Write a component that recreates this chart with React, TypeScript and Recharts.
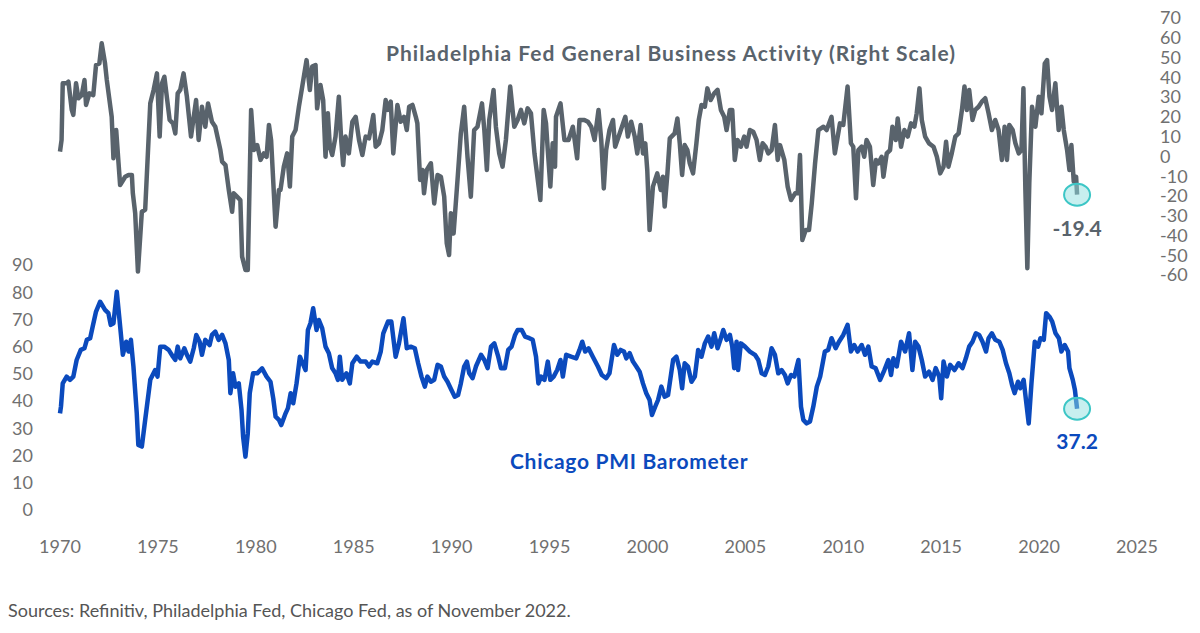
import { LineChart, Line, XAxis, YAxis, ReferenceDot } from "recharts";

// x positions are in the chart's own year scale (1970 .. 2025)
const phillyYears = [
  1970.0, 1970.08, 1970.14, 1970.34, 1970.43, 1970.6, 1970.68, 1970.82, 1970.94, 1971.11, 1971.25, 1971.33, 1971.5, 1971.7, 1971.84,
  1972.01, 1972.13, 1972.3, 1972.39, 1972.64, 1972.73, 1972.87, 1972.99, 1973.07, 1973.33, 1973.5, 1973.67, 1973.72, 1973.84, 1973.98,
  1974.18, 1974.35, 1974.61, 1974.78, 1974.95, 1975.09, 1975.21, 1975.33, 1975.6, 1975.77, 1975.89, 1976.01, 1976.14, 1976.31, 1976.48,
  1976.69, 1976.83, 1976.95, 1977.08, 1977.25, 1977.42, 1977.56, 1977.76, 1977.93, 1978.19, 1978.28, 1978.45, 1978.62, 1978.79, 1978.87,
  1979.04, 1979.21, 1979.3, 1979.47, 1979.59, 1979.76, 1979.9, 1980.07, 1980.24, 1980.41, 1980.55, 1980.67, 1980.78, 1981.01, 1981.18,
  1981.26, 1981.43, 1981.6, 1981.74, 1981.86, 1982.03, 1982.2, 1982.37, 1982.59, 1982.76, 1982.88, 1983.05, 1983.13, 1983.3, 1983.44,
  1983.56, 1983.68, 1983.78, 1983.9, 1984.07, 1984.24, 1984.36, 1984.46, 1984.58, 1984.75, 1984.93, 1985.1, 1985.27, 1985.44, 1985.61,
  1985.78, 1986.0, 1986.12, 1986.29, 1986.46, 1986.63, 1986.75, 1986.89, 1987.02, 1987.23, 1987.4, 1987.57, 1987.71, 1987.83, 1988.0,
  1988.17, 1988.25, 1988.39, 1988.51, 1988.59, 1988.73, 1988.94, 1989.11, 1989.28, 1989.45, 1989.62, 1989.75, 1989.87, 1989.96, 1990.1,
  1990.3, 1990.47, 1990.64, 1990.81, 1990.98, 1991.15, 1991.32, 1991.55, 1991.67, 1991.8, 1991.92, 1992.14, 1992.26, 1992.43, 1992.6,
  1992.77, 1992.99, 1993.2, 1993.37, 1993.54, 1993.71, 1993.88, 1994.05, 1994.23, 1994.4, 1994.53, 1994.7, 1994.82, 1994.91, 1995.04,
  1995.16, 1995.28, 1995.33, 1995.56, 1995.76, 1995.97, 1996.19, 1996.41, 1996.53, 1996.78, 1996.96, 1997.13, 1997.3, 1997.5, 1997.64,
  1997.77, 1997.89, 1998.06, 1998.24, 1998.35, 1998.58, 1998.87, 1999.0, 1999.17, 1999.35, 1999.48, 1999.65, 1999.77, 1999.89, 1999.99,
  2000.11, 2000.28, 2000.5, 2000.68, 2000.79, 2000.88, 2001.02, 2001.14, 2001.39, 2001.53, 2001.65, 2001.77, 2001.9, 2002.04, 2002.16,
  2002.33, 2002.5, 2002.62, 2002.76, 2002.93, 2003.06, 2003.23, 2003.41, 2003.58, 2003.75, 2003.92, 2004.04, 2004.21, 2004.33, 2004.46,
  2004.6, 2004.77, 2004.94, 2005.06, 2005.23, 2005.4, 2005.57, 2005.74, 2005.88, 2006.03, 2006.17, 2006.34, 2006.51, 2006.65, 2006.77,
  2006.99, 2007.16, 2007.33, 2007.54, 2007.67, 2007.79, 2007.91, 2008.08, 2008.25, 2008.39, 2008.56, 2008.73, 2008.99, 2009.15, 2009.4,
  2009.57, 2009.83, 2010.0, 2010.22, 2010.39, 2010.51, 2010.65, 2010.77, 2010.94, 2011.07, 2011.19, 2011.36, 2011.53, 2011.67, 2011.79,
  2011.96, 2012.05, 2012.22, 2012.39, 2012.51, 2012.68, 2012.78, 2012.95, 2013.12, 2013.29, 2013.46, 2013.63, 2013.75, 2013.89, 2014.01,
  2014.18, 2014.38, 2014.61, 2014.78, 2014.95, 2015.12, 2015.25, 2015.37, 2015.54, 2015.72, 2015.89, 2016.06, 2016.19, 2016.31, 2016.43,
  2016.6, 2016.74, 2016.91, 2017.08, 2017.25, 2017.42, 2017.59, 2017.76, 2017.93, 2018.1, 2018.24, 2018.36, 2018.48, 2018.65, 2018.79,
  2018.96, 2019.1, 2019.2, 2019.3, 2019.4, 2019.5, 2019.64, 2019.81, 2019.98, 2020.12, 2020.29, 2020.41, 2020.53, 2020.66, 2020.83,
  2021.0, 2021.14, 2021.26, 2021.43, 2021.55, 2021.65, 2021.77, 2021.89, 2021.94,
];
const phillyValues = [
  2.4, 8.3, 37, 37, 37.8, 23.5, 21, 37, 29.4, 31, 38.6, 26, 31.9, 31, 46.2,
  47, 57.2, 47, 38.6, 20, -1, 13.3, -3.5, -14.5, -10.3, -9.4, -9.4, -18.7, -28.8, -58.3,
  -28, -27, 26.8, 33.6, 42, 10, 37, 40.3, 18.4, 16.7, 11.6, 31.9, 33.6, 42, 30.2,
  10, 20, 28.5, 8.3, 25.1, 15, 26.8, 17.5, 15, 3.2, -2.7, -4.4, -17, -28, -18.7,
  -20.4, -22.1, -50.7, -57.5, -57.5, 23.5, 3.2, 5.7, -1.8, 1.5, -0.2, 15.9, 8.3, -35.6, -17,
  -17, -5.2, 1.5, -15.3, 10, 13.3, 25.1, 35.3, 48.7, 33.6, 45.4, 46.2, 24.3, 36.1, 28.5,
  -0.2, 21.8, 4.9, 0.7, 10, 30.2, 8.3, -4.4, 10, 1.5, 17.5, 20, 8.3, 0.7, 10,
  9.1, 20.9, 4.9, 6.6, 13.3, 28.5, 23.5, 27.7, 1.5, 26, 17.5, 20, 13.3, 25.1, 26,
  20, 16.7, -11.9, -6.9, -18.7, -6.9, -3.5, -23.8, -9.4, -10.3, -20.4, -44, -49.9, -28.8, -39,
  -11.9, 11.6, 25.1, -0.2, -20.4, 13.3, 15, 26.8, 13.3, -6.9, 18.4, 33.6, 15, 1.5, -5.2,
  8.3, 35.3, 15, 18.4, 23.5, 16.7, 24.3, 21.8, 1.5, -11.9, -22.1, 23.5, 16.7, 3.2, -15.3,
  6.6, -5.2, 20, 26.8, 8.3, 8.3, 15, -1, 18.4, 18.4, 17.5, 15, 8.3, 23.5, 8.3,
  -16.2, 3.2, 13.3, 18.4, 4.9, 11.6, 20, 10, 17.5, 10, 1.5, 15.9, 1.5, 6.6, -6.9,
  -37.3, -15.3, -8.6, -17, -10.3, -25.4, -8.6, 9.1, 11.6, 19.2, 6.6, -9.4, 5.7, 3.2, -3.5,
  -8.6, 6.6, 18.4, 26, 25.1, 34.4, 28.5, 31.9, 33.6, 23.5, 20, 13.3, 23.5, 23.5, -1.8,
  8.3, 4.9, 10, 4.9, 13.3, 12.5, 8.3, -1.8, 6.6, 4.9, 1.5, 3.2, 15.9, -1.8, 5.7,
  -1.8, -15.3, -22.1, -18.7, -18.7, 0.7, -42.3, -37.3, -37.3, -23.8, -3.5, 13.3, 15, 13.3, 20,
  1.5, 16.7, 15.9, 35.3, 6.6, 4.9, -21.2, 3.2, 4.9, -0.2, 8.3, 4.9, -14.5, -1.8, -3.5,
  -0.2, -10.3, 1.5, 3.2, 15, 8.3, 19.2, 4.9, 13.3, 10, 16.7, 15, 21.8, 34.4, 18.4,
  10, 6.6, 4.9, -0.2, -8.6, -5.2, 7.4, -5.2, 1.5, 10, 11.6, 23.5, 35.3, 23.5, 33.6,
  18.4, 23.5, 25.1, 27.7, 29.4, 21.8, 13.3, 18.4, 13.3, -1.8, 15, -1.8, 15.9, 13.3, 6.6,
  1.5, 3.2, 34.4, -17, -56.6, -13.6, 25.1, 15, 30.2, 21.8, 47, 48.7, 30.2, 23.5, 37,
  13.3, 25.1, 13.3, 3.2, -6.9, 5.7, -12.8, -10.3, -19.4,
];

const chicagoYears = [
  1970.0, 1970.05, 1970.14, 1970.34, 1970.51, 1970.68, 1970.85, 1971.06, 1971.25, 1971.37, 1971.54, 1971.67, 1971.84, 1972.05, 1972.3,
  1972.47, 1972.59, 1972.73, 1972.9, 1973.04, 1973.21, 1973.38, 1973.5, 1973.62, 1973.75, 1973.92, 1974.0, 1974.18, 1974.35, 1974.61,
  1974.86, 1974.98, 1975.12, 1975.32, 1975.55, 1975.77, 1975.89, 1976.01, 1976.14, 1976.35, 1976.48, 1976.65, 1976.83, 1976.96, 1977.13,
  1977.25, 1977.42, 1977.64, 1977.76, 1977.93, 1978.1, 1978.28, 1978.45, 1978.62, 1978.7, 1978.84, 1978.96, 1979.13, 1979.27, 1979.35,
  1979.47, 1979.59, 1979.69, 1979.86, 1980.07, 1980.32, 1980.55, 1980.75, 1980.89, 1981.01, 1981.18, 1981.3, 1981.52, 1981.64, 1981.78,
  1981.91, 1982.08, 1982.25, 1982.54, 1982.66, 1982.79, 1982.93, 1983.1, 1983.22, 1983.39, 1983.56, 1983.73, 1983.9, 1984.07, 1984.19,
  1984.29, 1984.41, 1984.63, 1984.8, 1984.93, 1985.15, 1985.35, 1985.61, 1985.78, 1985.95, 1986.2, 1986.38, 1986.51, 1986.75, 1986.92,
  1987.14, 1987.31, 1987.54, 1987.71, 1987.91, 1988.12, 1988.29, 1988.46, 1988.63, 1988.76, 1988.94, 1989.11, 1989.28, 1989.45, 1989.62,
  1989.79, 1989.99, 1990.16, 1990.33, 1990.47, 1990.64, 1990.78, 1990.9, 1991.07, 1991.24, 1991.5, 1991.67, 1991.84, 1992.01, 1992.18,
  1992.38, 1992.52, 1992.72, 1992.89, 1993.06, 1993.24, 1993.37, 1993.58, 1993.75, 1993.97, 1994.14, 1994.31, 1994.43, 1994.57, 1994.74,
  1994.91, 1995.04, 1995.21, 1995.39, 1995.56, 1995.68, 1995.85, 1996.1, 1996.36, 1996.53, 1996.67, 1996.82, 1996.99, 1997.21, 1997.47,
  1997.67, 1997.89, 1998.06, 1998.29, 1998.46, 1998.63, 1998.8, 1998.92, 1999.09, 1999.26, 1999.43, 1999.6, 1999.77, 1999.94, 2000.11,
  2000.23, 2000.4, 2000.54, 2000.71, 2000.88, 2001.05, 2001.31, 2001.48, 2001.65, 2001.77, 2001.9, 2002.07, 2002.25, 2002.42, 2002.59,
  2002.76, 2002.93, 2003.1, 2003.27, 2003.41, 2003.58, 2003.75, 2003.87, 2004.04, 2004.21, 2004.33, 2004.43, 2004.55, 2004.63, 2004.77,
  2004.98, 2005.23, 2005.49, 2005.66, 2005.83, 2006.0, 2006.17, 2006.34, 2006.51, 2006.68, 2006.85, 2007.02, 2007.16, 2007.33, 2007.5,
  2007.71, 2007.84, 2007.96, 2008.13, 2008.3, 2008.47, 2008.65, 2008.82, 2009.06, 2009.23, 2009.4, 2009.61, 2009.78, 2010.0, 2010.22,
  2010.39, 2010.56, 2010.73, 2010.94, 2011.11, 2011.28, 2011.45, 2011.65, 2011.88, 2012.1, 2012.3, 2012.44, 2012.56, 2012.73, 2012.95,
  2013.16, 2013.36, 2013.53, 2013.67, 2013.84, 2014.01, 2014.18, 2014.38, 2014.56, 2014.72, 2014.9, 2015.0, 2015.12, 2015.29, 2015.46,
  2015.68, 2015.89, 2016.09, 2016.26, 2016.43, 2016.6, 2016.77, 2016.94, 2017.11, 2017.29, 2017.42, 2017.59, 2017.76, 2017.97, 2018.14,
  2018.31, 2018.48, 2018.62, 2018.75, 2018.92, 2019.04, 2019.21, 2019.33, 2019.47, 2019.61, 2019.78, 2019.95, 2020.07, 2020.24, 2020.36,
  2020.53, 2020.67, 2020.84, 2021.01, 2021.14, 2021.31, 2021.48, 2021.55, 2021.72, 2021.83, 2021.94,
];
const chicagoValues = [
  35.5, 38, 46.5, 49, 47.8, 49, 55.1, 58.8, 59.4, 62.5, 63.1, 67.4, 72.9, 76.5, 73.5,
  72.3, 68, 68.6, 80.2, 69.8, 57, 61.8, 58.2, 62.5, 52.7, 35.5, 23.9, 23.3, 33.1, 47.8,
  51.4, 49, 60, 60, 58.8, 56.3, 55.1, 60, 55.7, 59.4, 57, 54.5, 59.4, 64.3, 61.8,
  57, 62.5, 60.6, 64.3, 65.5, 62.5, 64.3, 61.2, 55.1, 42.9, 50.2, 45.3, 46.5, 36.7, 27,
  19.6, 28.2, 42.9, 50.2, 50.2, 52, 49, 47.1, 41, 34.3, 33.1, 31.2, 35.5, 37.4, 42.9,
  39.2, 46.5, 56.3, 51.4, 66.1, 68.6, 74.1, 66.1, 69.8, 66.7, 60, 57.6, 52.1, 50.2, 47.8,
  56.3, 47.8, 50.2, 46.5, 53.9, 56.3, 54.5, 54.5, 52.7, 54.5, 53.9, 58.2, 64.9, 69.2, 69.2,
  56.3, 61.2, 70.4, 59.4, 60, 59.4, 53.9, 49, 45.3, 49, 47.1, 47.8, 53.3, 52.7, 49,
  47.1, 44.1, 41.6, 42.2, 46.5, 52.7, 54.5, 50.2, 48.4, 52.7, 57, 55.1, 52.1, 60, 61.2,
  56.3, 52.1, 52.1, 58.8, 60, 64.3, 66.1, 66.1, 63.7, 63.1, 62.5, 56.3, 46.5, 49, 47.8,
  54.5, 47.8, 49, 51.4, 55.1, 49, 57, 56.3, 55.7, 58.8, 61.8, 58.2, 59.4, 56.3, 52.7,
  49.6, 48.4, 50.2, 60.6, 57, 58.8, 58.2, 55.7, 57.6, 54.5, 52.7, 50.8, 46.5, 42.9, 40.4,
  34.9, 38, 40.4, 45.3, 41.6, 42.2, 55.1, 56.3, 51.4, 44.7, 53.9, 52.7, 47.1, 49, 58.8,
  56.3, 61.2, 63.7, 60, 64.9, 59.4, 63.1, 66.1, 62.5, 64.3, 60, 52.1, 61.8, 51.4, 61.2,
  60, 58.2, 57, 55.1, 50.2, 49.6, 52.7, 59.4, 57, 50.2, 51.4, 49.6, 46.5, 49.6, 49,
  55.1, 38, 33.1, 31.8, 32.5, 38, 45.3, 49, 58.2, 58.8, 63.1, 59.4, 61.8, 64.3, 68,
  58.2, 60.6, 58.2, 60.6, 57, 60, 52.7, 52.1, 47.8, 51.4, 55.1, 49.6, 55.7, 52.7, 61.8,
  58.2, 64.9, 51.4, 61.8, 60, 55.1, 49, 50.8, 47.8, 52.1, 49, 41, 54.5, 49, 53.3,
  51.4, 53.9, 52.1, 55.7, 60, 61.8, 64.9, 64.3, 61.8, 58.2, 63.1, 64.9, 62.5, 61.8, 58.8,
  53.9, 50.2, 45.9, 42.9, 47.1, 44.7, 47.8, 40.4, 31.8, 46.5, 61.8, 60, 63.1, 62.5, 72.3,
  71, 69.2, 64.9, 63.1, 58.2, 60.6, 58.2, 52.1, 47.8, 44.1, 37.2,
];

const yearTicks = [1970, 1975, 1980, 1985, 1990, 1995, 2000, 2005, 2010, 2015, 2020, 2025];
const leftTicks = [0, 10, 20, 30, 40, 50, 60, 70, 80, 90];
const rightTicks = [-60, -50, -40, -30, -20, -10, 0, 10, 20, 30, 40, 50, 60, 70];

const phillyData = phillyYears.map((year, i) => ({ year, value: phillyValues[i] }));
const chicagoData = chicagoYears.map((year, i) => ({ year, value: chicagoValues[i] }));
const phillyLast = phillyData[phillyData.length - 1];
const chicagoLast = chicagoData[chicagoData.length - 1];

const FONT = "Lato, 'Open Sans', sans-serif";
const GRAY = "#59636c";
const BLUE = "#0b4abd";
const tickStyle = { fill: "#707070", fontSize: 18, fontFamily: FONT };

const Ellipse = (props: any) => (
  <ellipse cx={props.cx} cy={props.cy} rx={13} ry={11} fill="#8fe0e0" fillOpacity={0.5} stroke="#3cc6c6" strokeWidth={2} />
);

export default function App() {
  return (
    <div style={{ position: "relative", top: -8, width: 1192, height: 633, fontFamily: FONT }}>
      <LineChart width={1192} height={570} margin={{ top: 18, right: 0, left: 0, bottom: 0 }}>
        <XAxis
          type="number"
          dataKey="year"
          domain={[1970, 2025]}
          ticks={yearTicks}
          interval={0}
          axisLine={false}
          tickLine={false}
          tickSize={0}
          tickMargin={30}
          height={60}
          tick={tickStyle}
        />
        <YAxis
          yAxisId="left"
          orientation="left"
          type="number"
          domain={[0, 180.7]}
          ticks={leftTicks}
          interval={0}
          axisLine={false}
          tickLine={false}
          tickSize={0}
          tickMargin={27}
          width={52}
          tick={tickStyle}
        />
        <YAxis
          yAxisId="right"
          orientation="right"
          type="number"
          domain={[-178.9, 70]}
          ticks={rightTicks}
          interval={0}
          axisLine={false}
          tickLine={false}
          tickSize={0}
          tickMargin={23}
          width={63}
          tick={{ ...tickStyle, textAnchor: "start" }}
        />
        <Line
          yAxisId="right"
          data={phillyData}
          dataKey="value"
          type="linear"
          stroke={GRAY}
          strokeWidth={4.5}
          strokeLinejoin="round"
          dot={false}
          isAnimationActive={false}
        />
        <Line
          yAxisId="left"
          data={chicagoData}
          dataKey="value"
          type="linear"
          stroke={BLUE}
          strokeWidth={4.5}
          strokeLinejoin="round"
          dot={false}
          isAnimationActive={false}
        />
        <ReferenceDot
          yAxisId="right"
          x={phillyLast.year}
          y={phillyLast.value}
          shape={Ellipse}
          label={{ value: "-19.4", position: "bottom", offset: 16, fill: GRAY, fontSize: 21, fontWeight: 700, fontFamily: FONT }}
        />
        <ReferenceDot
          yAxisId="left"
          x={chicagoLast.year}
          y={chicagoLast.value}
          shape={Ellipse}
          label={{ value: "37.2", position: "bottom", offset: 15, fill: BLUE, fontSize: 21, fontWeight: 700, fontFamily: FONT }}
        />
      </LineChart>
      <div style={{ position: "absolute", left: 378, top: 40, fontSize: 21, fontWeight: 700, color: GRAY, letterSpacing: 1 }}>
        Philadelphia Fed General Business Activity (Right Scale)
      </div>
      <div style={{ position: "absolute", left: 502, top: 448, fontSize: 21, fontWeight: 700, color: BLUE, letterSpacing: 0.7 }}>
        Chicago PMI Barometer
      </div>
      <div style={{ position: "absolute", left: 0, top: 599, fontSize: 18, color: "#555" }}>
        Sources: Refinitiv, Philadelphia Fed, Chicago Fed, as of November 2022.
      </div>
    </div>
  );
}
